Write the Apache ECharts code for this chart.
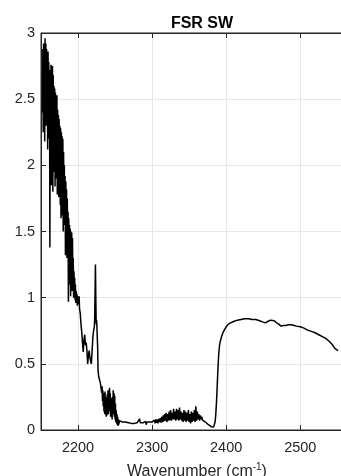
<!DOCTYPE html>
<html>
<head>
<meta charset="utf-8">
<script src="https://cdn.jsdelivr.net/npm/echarts@6/dist/echarts.min.js"></script>
<style>
  html, body { margin: 0; padding: 0; background: #fff; }
  #chart { width: 341px; height: 476px; }
</style>
</head>
<body>
<div id="chart"></div>
<script>
// tick positions
const xTicks = [2200, 2300, 2400, 2500];
// the figure is cropped on the right, so the axis runs a little past the image edge
const xMin = 2150;
const xMax = 2557.7;

// [wavenumber, signal] pieces of the spectrum, left to right
const bandHead = [
  [2152,2.40],[2152.5,2.88],[2153,2.25],[2153.5,2.92],[2154,2.55],[2154.5,2.90],[2155,2.18],[2155.5,2.96],[2156,2.60],[2156.5,2.92],
  [2157,2.30],[2157.5,2.88],[2158,2.45],[2158.5,2.85],[2159,2.12],[2159.5,2.86],[2160,2.50],[2160.5,2.78],[2161,2.20],[2161.5,2.72],
  [2162,1.38],[2162.5,2.70],[2163,2.30],[2163.5,2.76],[2164,1.85],[2164.5,2.74],[2165,2.40],[2165.5,2.75],[2166,1.80],[2166.5,2.68],
  [2167,2.20],[2167.5,2.60],[2168,1.95],[2168.5,2.58],[2169,1.84],[2169.5,2.55],[2170,2.10],[2170.5,2.52],[2171,1.90],[2171.5,2.53],
  [2172,1.78],[2172.5,2.42],[2173,2.05],[2173.5,2.38],[2174,1.76],[2174.5,2.35],[2175,1.95],[2175.5,2.30],[2176,1.70],[2176.5,2.28],
  [2177,1.60],[2177.5,2.25],[2178,1.85],[2178.5,2.22],[2179,1.62],[2179.5,2.20],[2180,1.50],[2180.5,2.10],[2181,1.70],[2181.5,2.00],
  [2182,1.55],[2182.5,1.92],[2183,1.32],[2183.5,1.88],[2184,1.45],[2184.5,1.82],[2185,1.30],[2185.5,1.75],[2186,1.40],[2186.5,1.65],
  [2187,0.97],[2187.5,1.60],[2188,1.25],[2188.5,1.55],[2189,1.10],[2189.5,1.52],[2190,1.01],[2190.5,1.50],[2191,1.15],[2191.5,1.49],
  [2192,1.05],[2192.5,1.45],[2193,1.10],[2193.5,1.30],[2194,1.00],[2194.5,1.20],[2195,1.05],[2195.5,1.15],[2196,0.98],[2196.5,1.10],
  [2197,0.96],[2197.5,1.05],[2198,0.98],[2198.5,1.03],[2199,0.94],[2199.5,1.01],[2200,0.96],[2200.5,1.00],[2201,0.95],[2201.5,1.01]
];

const spikeZone = [
  [2202,0.92],[2203,0.88],[2204,0.80],[2205,0.74],[2206,0.66],[2207,0.59],[2208,0.68],[2209,0.72],[2210,0.64],[2211,0.66],
  [2212,0.60],[2213,0.50],[2214,0.56],[2215,0.60],[2216,0.55],[2217,0.52],[2218,0.50],[2219,0.60],[2220,0.70],[2221,0.75],
  [2222,0.78],[2222.5,0.85],[2223,1.05],[2223.5,1.25],[2224,1.00],[2224.5,0.80],[2225,0.83],[2225.5,0.78],[2226,0.70],[2226.5,0.62],
  [2227,0.45],[2228,0.40],[2229,0.38],[2230,0.36],[2231,0.32],[2232,0.28]
];

const bandTail = [
  [2232.5,0.33],[2233,0.22],[2233.5,0.30],[2234,0.18],[2234.5,0.28],[2235,0.14],[2235.5,0.26],[2236,0.12],[2236.5,0.29],[2237,0.16],
  [2237.5,0.25],[2238,0.10],[2238.5,0.22],[2239,0.11],[2239.5,0.27],[2240,0.15],[2240.5,0.30],[2241,0.12],[2241.5,0.26],[2242,0.18],
  [2242.5,0.32],[2243,0.14],[2243.5,0.28],[2244,0.10],[2244.5,0.24],[2245,0.12],[2245.5,0.20],[2246,0.08],[2246.5,0.25],[2247,0.12],
  [2247.5,0.30],[2248,0.14],[2248.5,0.28],[2249,0.10],[2249.5,0.26],[2250,0.08],[2250.5,0.20],[2251,0.06],[2251.5,0.15],[2252,0.05],
  [2252.5,0.12],[2253,0.04],[2253.5,0.10],[2254,0.03],[2254.5,0.08],[2255,0.04],[2256,0.07],[2257,0.06],[2258,0.07],[2260,0.06],
  [2262,0.055],[2264,0.06],[2266,0.05],[2268,0.055],[2270,0.05],[2272,0.05],[2274,0.055],[2276,0.05],[2278,0.06],[2280,0.055],
  [2282,0.06],[2283,0.085],[2284,0.055],[2286,0.05],[2288,0.055],[2290,0.045],[2291,0.065],[2292,0.04],[2293,0.06],[2294,0.05],
  [2296,0.06],[2298,0.05],[2300,0.06]
];

const midBand = [
  [2301,0.07],[2302,0.05],[2303,0.075],[2304,0.05],[2305,0.08],[2306,0.055],[2307,0.08],[2308,0.05],[2309,0.085],[2310,0.06],
  [2311,0.09],[2312,0.055],[2313,0.10],[2314,0.06],[2315,0.11],[2316,0.065],[2317,0.12],[2318,0.07],[2319,0.13],[2320,0.06],
  [2321,0.12],[2322,0.07],[2323,0.14],[2324,0.075],[2325,0.15],[2326,0.07],[2327,0.13],[2328,0.08],[2329,0.16],[2330,0.08],
  [2331,0.14],[2332,0.07],[2333,0.16],[2334,0.08],[2335,0.15],[2336,0.07],[2337,0.17],[2338,0.08],[2339,0.14],[2340,0.07],
  [2341,0.13],[2342,0.06],[2343,0.15],[2344,0.07],[2345,0.14],[2346,0.06],[2347,0.13],[2348,0.07],[2349,0.15],[2350,0.06],
  [2351,0.12],[2352,0.05],[2353,0.14],[2354,0.06],[2355,0.13],[2356,0.07],[2357,0.15],[2358,0.06],[2359,0.18],[2360,0.07],
  [2361,0.14],[2362,0.08],[2363,0.12],[2364,0.07],[2365,0.11],[2366,0.08],[2367,0.10],[2368,0.075],[2369,0.09],[2370,0.07],
  [2372,0.06],[2374,0.05],[2376,0.04],[2378,0.03],[2380,0.025],[2382,0.02],[2383,0.022],[2384,0.03]
];

const plateau = [
  [2385,0.06],[2386,0.12],[2387,0.22],[2388,0.35],[2389,0.48],[2390,0.58],[2391,0.64],[2392,0.67],[2394,0.71],[2396,0.74],
  [2398,0.76],[2400,0.78],[2403,0.80],[2406,0.81],[2410,0.82],[2415,0.83],[2420,0.835],[2425,0.84],[2430,0.84],[2435,0.835],
  [2440,0.835],[2445,0.825],[2450,0.815],[2453,0.81],[2456,0.82],[2460,0.83],[2462,0.84],[2465,0.825],[2468,0.81],[2471,0.80],
  [2474,0.785],[2477,0.79],[2480,0.79],[2484,0.795],[2488,0.795],[2492,0.79],[2495,0.785],[2497,0.79],[2500,0.78],[2505,0.77],
  [2510,0.755],[2515,0.745],[2520,0.735],[2525,0.72],[2530,0.705],[2535,0.69],[2540,0.665],[2544,0.64],[2547,0.615],[2549,0.605],
  [2551,0.60]
];

const spectrum = bandHead.concat(spikeZone, bandTail, midBand, plateau);

const font = '"Liberation Sans", Arial, Helvetica, sans-serif';
const axisColor = '#262626';

const chart = echarts.init(document.getElementById('chart'));
const option = {
  animation: false,
  backgroundColor: '#ffffff',
  title: {
    text: 'FSR SW',
    left: 197,
    top: 11,
    textAlign: 'center',
    textStyle: { fontSize: 16, fontWeight: 'bold', color: '#000', fontFamily: font }
  },
  grid: {
    left: 41, top: 33, right: -2, bottom: 46, outerBoundsMode: 'none', containLabel: false,
    show: true, borderColor: axisColor, borderWidth: 1, backgroundColor: 'transparent'
  },
  xAxis: [
    {
      type: 'value',
      min: xMin,
      max: xMax,
      position: 'bottom',
      name: 'Wavenumber (cm{sup|-1})',
      nameLocation: 'middle',
      nameGap: 32,
      nameTextStyle: {
        fontSize: 16, color: axisColor, fontFamily: font, padding: [0, 0, 0, 10],
        rich: { sup: { fontSize: 10, verticalAlign: 'bottom', padding: [0, 0, 9, 0], color: axisColor, fontFamily: font } }
      },
      axisLine: { show: true, onZero: false, lineStyle: { color: axisColor, width: 1 } },
      axisTick: { show: true, inside: true, length: 5, customValues: xTicks, lineStyle: { color: axisColor } },
      axisLabel: {
        customValues: xTicks, color: axisColor, fontSize: 14.5, margin: 10, fontFamily: font,
        formatter: function (v) { return String(v); }
      },
      splitLine: { show: true, lineStyle: { color: '#e6e6e6', width: 1 } }
    },
    {
      type: 'value',
      min: xMin,
      max: xMax,
      position: 'top',
      axisLine: { show: true, onZero: false, lineStyle: { color: axisColor, width: 1 } },
      axisTick: { show: true, inside: true, length: 5, customValues: xTicks, lineStyle: { color: axisColor } },
      axisLabel: { show: false },
      splitLine: { show: false }
    }
  ],
  yAxis: {
    type: 'value',
    min: 0,
    max: 3,
    interval: 0.5,
    axisLine: { show: true, onZero: false, lineStyle: { color: axisColor, width: 1 } },
    axisTick: { show: true, inside: true, length: 5, lineStyle: { color: axisColor } },
    axisLabel: { color: axisColor, fontSize: 14.5, margin: 6, fontFamily: font },
    splitLine: { show: true, lineStyle: { color: '#e6e6e6', width: 1 } }
  },
  series: [
    {
      type: 'line',
      xAxisIndex: 0,
      data: spectrum,
      symbol: 'none',
      clip: true,
      lineStyle: { color: '#000', width: 1.5 }
    }
  ]
};
chart.setOption(option);
</script>
</body>
</html>
